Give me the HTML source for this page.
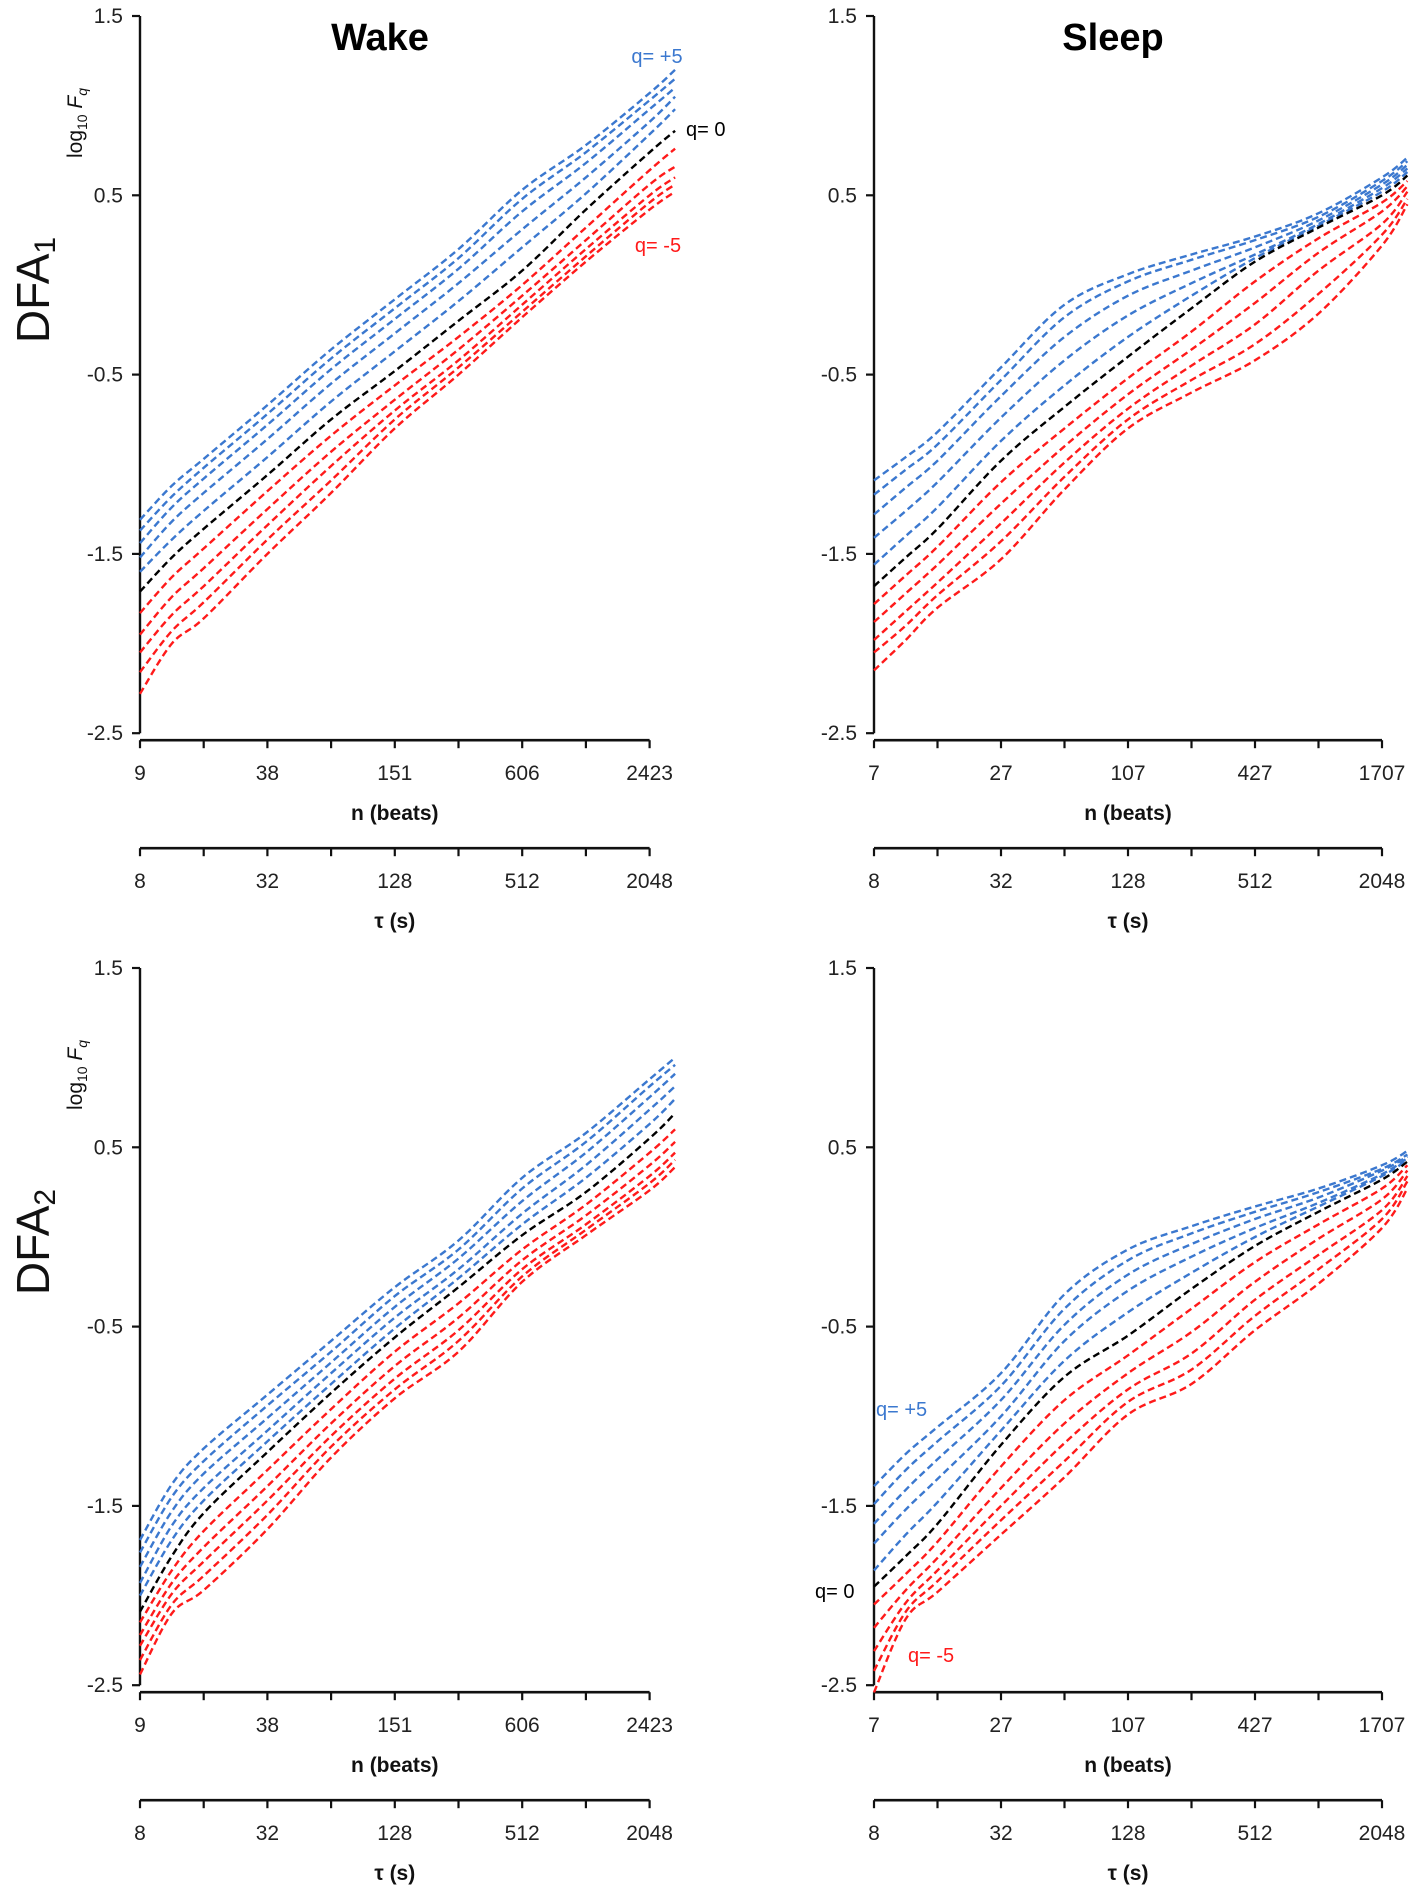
<!DOCTYPE html>
<html><head><meta charset="utf-8">
<style>
html,body{margin:0;padding:0;background:#fff;}
svg{display:block;font-family:"Liberation Sans Narrow","Liberation Sans",sans-serif;}
.tk{font-size:21px;fill:#222;}
.ax{font-size:21px;font-weight:bold;fill:#111;}
</style></head>
<body>
<svg id="chart" width="1417" height="1892" viewBox="0 0 1417 1892" xmlns="http://www.w3.org/2000/svg">
<g id="static"></g>
</svg>
<script>
// x grid in octaves above the smallest scale (tau = 8 s)
const octaves = [0, 0.5, 1, 2, 3, 4, 5, 6, 7, 8, 8.4];
const yTicks = [1.5, 0.5, -0.5, -1.5, -2.5];
const tauLabels = ["8","32","128","512","2048"];
const nLabelsWake = ["9","38","151","606","2423"];
const nLabelsSleep = ["7","27","107","427","1707"];
const qOrder = ["+5","+4","+3","+2","+1","0","-1","-2","-3","-4","-5"];

// Wake DFA1
const wake1_b1 = [-1.31,-1.12,-0.97,-0.67,-0.36,-0.08,0.20,0.53,0.78,1.07,1.20];
const wake1_b2 = [-1.37,-1.18,-1.02,-0.72,-0.41,-0.13,0.15,0.48,0.74,1.03,1.15];
const wake1_b3 = [-1.44,-1.24,-1.08,-0.78,-0.47,-0.19,0.09,0.41,0.68,0.98,1.10];
const wake1_b4 = [-1.52,-1.32,-1.16,-0.86,-0.55,-0.27,0.01,0.31,0.60,0.91,1.05];
const wake1_b5 = [-1.60,-1.42,-1.26,-0.96,-0.65,-0.37,-0.09,0.21,0.51,0.84,0.98];
const wake1_k  = [-1.71,-1.52,-1.36,-1.06,-0.75,-0.48,-0.20,0.08,0.42,0.74,0.86];
const wake1_r1 = [-1.83,-1.63,-1.47,-1.15,-0.84,-0.56,-0.29,0.00,0.32,0.64,0.76];
const wake1_r2 = [-1.95,-1.74,-1.58,-1.25,-0.93,-0.64,-0.36,-0.06,0.25,0.56,0.66];
const wake1_r3 = [-2.05,-1.84,-1.68,-1.34,-1.01,-0.70,-0.42,-0.11,0.20,0.50,0.60];
const wake1_r4 = [-2.16,-1.93,-1.77,-1.42,-1.09,-0.75,-0.46,-0.15,0.16,0.46,0.56];
const wake1_r5 = [-2.28,-2.00,-1.86,-1.50,-1.16,-0.80,-0.50,-0.18,0.13,0.42,0.52];

// Sleep DFA1
const sleep1_b1 = [-1.09,-0.96,-0.82,-0.46,-0.11,0.06,0.17,0.27,0.40,0.60,0.71];
const sleep1_b2 = [-1.17,-1.03,-0.89,-0.53,-0.18,0.02,0.14,0.25,0.38,0.58,0.69];
const sleep1_b3 = [-1.28,-1.13,-0.98,-0.62,-0.29,-0.06,0.08,0.21,0.36,0.56,0.67];
const sleep1_b4 = [-1.41,-1.26,-1.10,-0.74,-0.42,-0.17,0.01,0.17,0.34,0.54,0.65];
const sleep1_b5 = [-1.56,-1.40,-1.24,-0.87,-0.56,-0.29,-0.06,0.15,0.33,0.52,0.63];
const sleep1_k  = [-1.68,-1.52,-1.36,-0.98,-0.68,-0.40,-0.13,0.13,0.32,0.50,0.61];
const sleep1_r1 = [-1.78,-1.62,-1.46,-1.10,-0.80,-0.52,-0.26,0.02,0.26,0.46,0.58];
const sleep1_r2 = [-1.88,-1.72,-1.56,-1.22,-0.90,-0.61,-0.36,-0.10,0.18,0.41,0.55];
const sleep1_r3 = [-1.98,-1.82,-1.66,-1.33,-0.99,-0.69,-0.45,-0.22,0.08,0.34,0.52];
const sleep1_r4 = [-2.05,-1.90,-1.73,-1.43,-1.07,-0.75,-0.53,-0.33,-0.05,0.28,0.48];
const sleep1_r5 = [-2.15,-1.98,-1.80,-1.53,-1.14,-0.80,-0.60,-0.42,-0.16,0.22,0.45];

// Wake DFA2
const wake2_b1 = [-1.69,-1.38,-1.18,-0.88,-0.58,-0.28,-0.02,0.33,0.58,0.88,1.00];
const wake2_b2 = [-1.76,-1.45,-1.25,-0.94,-0.64,-0.33,-0.07,0.27,0.53,0.84,0.96];
const wake2_b3 = [-1.84,-1.53,-1.32,-1.01,-0.70,-0.39,-0.12,0.20,0.47,0.78,0.91];
const wake2_b4 = [-1.93,-1.61,-1.40,-1.08,-0.76,-0.45,-0.18,0.13,0.40,0.71,0.84];
const wake2_b5 = [-2.00,-1.69,-1.47,-1.14,-0.82,-0.51,-0.23,0.07,0.33,0.63,0.77];
const wake2_k  = [-2.09,-1.78,-1.54,-1.20,-0.87,-0.56,-0.28,0.01,0.25,0.55,0.69];
const wake2_r1 = [-2.15,-1.86,-1.64,-1.30,-0.96,-0.64,-0.37,-0.07,0.18,0.47,0.60];
const wake2_r2 = [-2.22,-1.93,-1.73,-1.39,-1.04,-0.72,-0.45,-0.13,0.12,0.40,0.53];
const wake2_r3 = [-2.28,-1.99,-1.81,-1.47,-1.11,-0.79,-0.52,-0.18,0.07,0.34,0.47];
const wake2_r4 = [-2.36,-2.05,-1.89,-1.55,-1.17,-0.85,-0.58,-0.22,0.04,0.30,0.43];
const wake2_r5 = [-2.44,-2.10,-1.97,-1.63,-1.23,-0.90,-0.64,-0.25,0.01,0.26,0.39];

// Sleep DFA2
const sleep2_b1 = [-1.39,-1.21,-1.06,-0.76,-0.32,-0.07,0.06,0.17,0.27,0.40,0.48];
const sleep2_b2 = [-1.49,-1.30,-1.14,-0.83,-0.40,-0.13,0.02,0.14,0.25,0.38,0.46];
const sleep2_b3 = [-1.60,-1.41,-1.24,-0.91,-0.49,-0.21,-0.04,0.10,0.22,0.37,0.45];
const sleep2_b4 = [-1.71,-1.52,-1.35,-1.00,-0.58,-0.30,-0.11,0.05,0.19,0.35,0.44];
const sleep2_b5 = [-1.86,-1.66,-1.48,-1.08,-0.69,-0.42,-0.20,0.00,0.17,0.34,0.43];
const sleep2_k  = [-1.95,-1.78,-1.60,-1.16,-0.78,-0.55,-0.29,-0.05,0.14,0.32,0.42];
const sleep2_r1 = [-2.05,-1.88,-1.70,-1.28,-0.91,-0.66,-0.40,-0.14,0.07,0.27,0.40];
const sleep2_r2 = [-2.18,-1.97,-1.79,-1.40,-1.04,-0.76,-0.53,-0.25,-0.01,0.21,0.37];
const sleep2_r3 = [-2.31,-2.04,-1.86,-1.50,-1.15,-0.85,-0.65,-0.35,-0.10,0.15,0.34];
const sleep2_r4 = [-2.42,-2.09,-1.92,-1.58,-1.25,-0.92,-0.74,-0.44,-0.18,0.10,0.31];
const sleep2_r5 = [-2.54,-2.13,-1.98,-1.66,-1.34,-0.99,-0.82,-0.52,-0.26,0.05,0.27];

const NS = "http://www.w3.org/2000/svg";
const svg = document.getElementById("chart");
function el(tag, attrs, parent){ const e=document.createElementNS(NS,tag); for(const k in attrs) e.setAttribute(k,attrs[k]); (parent||svg).appendChild(e); return e; }

const BLUE="#3b78cf", RED="#ff1a1a", BLACK="#000";

const panels = [
  {id:"wake-dfa1", x0:140, oct:63.7, top:16, labels:nLabelsWake,
   series:[wake1_b1,wake1_b2,wake1_b3,wake1_b4,wake1_b5,wake1_k,wake1_r1,wake1_r2,wake1_r3,wake1_r4,wake1_r5]},
  {id:"sleep-dfa1", x0:874, oct:63.5, top:16, labels:nLabelsSleep,
   series:[sleep1_b1,sleep1_b2,sleep1_b3,sleep1_b4,sleep1_b5,sleep1_k,sleep1_r1,sleep1_r2,sleep1_r3,sleep1_r4,sleep1_r5]},
  {id:"wake-dfa2", x0:140, oct:63.7, top:968, labels:nLabelsWake,
   series:[wake2_b1,wake2_b2,wake2_b3,wake2_b4,wake2_b5,wake2_k,wake2_r1,wake2_r2,wake2_r3,wake2_r4,wake2_r5]},
  {id:"sleep-dfa2", x0:874, oct:63.5, top:968, labels:nLabelsSleep,
   series:[sleep2_b1,sleep2_b2,sleep2_b3,sleep2_b4,sleep2_b5,sleep2_k,sleep2_r1,sleep2_r2,sleep2_r3,sleep2_r4,sleep2_r5]}
];
const UNIT = 179.3;

function smoothPath(pts){
  let d = "M"+pts[0][0].toFixed(1)+","+pts[0][1].toFixed(1);
  for(let i=0;i<pts.length-1;i++){
    const p0=pts[Math.max(i-1,0)], p1=pts[i], p2=pts[i+1], p3=pts[Math.min(i+2,pts.length-1)];
    const c1=[p1[0]+(p2[0]-p0[0])/6, p1[1]+(p2[1]-p0[1])/6];
    const c2=[p2[0]-(p3[0]-p1[0])/6, p2[1]-(p3[1]-p1[1])/6];
    d+=" C"+c1[0].toFixed(1)+","+c1[1].toFixed(1)+" "+c2[0].toFixed(1)+","+c2[1].toFixed(1)+" "+p2[0].toFixed(1)+","+p2[1].toFixed(1);
  }
  return d;
}

panels.forEach(p=>{
  const g = el("g",{});
  
  
  const xs = o => p.x0 + o*p.oct;
  const ys = v => p.top + (1.5 - v)*UNIT;
  const yBot = ys(-2.5);
  const xEnd = xs(8);
  const ya = el("line",{x1:p.x0,y1:p.top,x2:p.x0,y2:yBot,stroke:"#111","stroke-width":2.4},g);
  
  
  yTicks.forEach(v=>{
    el("line",{x1:p.x0-8,y1:ys(v),x2:p.x0,y2:ys(v),stroke:"#111","stroke-width":2.2},g);
    const t = el("text",{x:p.x0-17,y:ys(v)+7,"text-anchor":"end",class:"tk"},g);
    t.textContent = v.toFixed(1);
    
    
  });
  [[yBot+7, p.labels, "n (beats)", "n-axis"], [yBot+115, tauLabels, "\u03c4 (s)", "tau-axis"]].forEach(([ay, labs, title, nm])=>{
    const ln = el("line",{x1:p.x0,y1:ay,x2:xEnd,y2:ay,stroke:"#111","stroke-width":2.6},g);
    
    
    for(let o=0;o<=8;o++) el("line",{x1:xs(o),y1:ay,x2:xs(o),y2:ay+8,stroke:"#111","stroke-width":2.2},g);
    labs.forEach((s,i)=>{
      const t = el("text",{x:xs(i*2),y:ay+40,"text-anchor":"middle",class:"tk"},g);
      t.textContent = s;
      
      
    });
    const tt = el("text",{x:xs(4),y:ay+80,"text-anchor":"middle",class:"ax"},g);
    tt.textContent = title;
    
    
  });
  p.series.forEach((arr,i)=>{
    const col = i<5?BLUE:(i===5?BLACK:RED);
    const pts = arr.map((v,j)=>[xs(octaves[j]), ys(v)]);
    const path = el("path",{d:smoothPath(pts),fill:"none",stroke:col,"stroke-width":2.4,"stroke-dasharray":"7 4"},g);
    
    
  });
});

function addText(x,y,str,attrs,name){
  const t = el("text",Object.assign({x:x,y:y},attrs));
  t.textContent = str;
  
  
  return t;
}
addText(380,50,"Wake",{"text-anchor":"middle","font-size":"38","font-weight":"bold","font-family":"Liberation Sans, sans-serif"},"title-wake");
addText(1113,50,"Sleep",{"text-anchor":"middle","font-size":"38","font-weight":"bold","font-family":"Liberation Sans, sans-serif"},"title-sleep");

[[290,"1","row-label-dfa1"],[1242,"2","row-label-dfa2"]].forEach(([cy,sub,name])=>{
  const t = el("text",{transform:"translate(49,"+cy+") rotate(-90)","text-anchor":"middle","font-size":"46","font-family":"Liberation Sans, sans-serif",fill:"#111"});
  
  
  const a = el("tspan",{},t); a.textContent="DFA";
  const b = el("tspan",{"font-size":"30",dy:"6"},t); b.textContent=sub;
});
[[123],[1075]].forEach(([cy])=>{
  const t = el("text",{transform:"translate(82,"+cy+") rotate(-90)","text-anchor":"middle","font-size":"21",fill:"#111"});
  
  
  const a = el("tspan",{},t); a.textContent="log";
  const b = el("tspan",{"font-size":"14",dy:"5"},t); b.textContent="10";
  const c = el("tspan",{dy:"-5","font-style":"italic"},t); c.textContent=" F";
  const d = el("tspan",{"font-size":"14",dy:"5","font-style":"italic"},t); d.textContent="q";
});

addText(657,63,"q= +5",{"text-anchor":"middle","font-size":"20",fill:BLUE},"label-q-plus5");
addText(686,136,"q= 0",{"text-anchor":"start","font-size":"20",fill:BLACK},"label-q-0");
addText(658,252,"q= -5",{"text-anchor":"middle","font-size":"20",fill:RED},"label-q-minus5");
addText(876,1416,"q= +5",{"text-anchor":"start","font-size":"20",fill:BLUE},"label-q-plus5-sleep");
addText(815,1598,"q= 0",{"text-anchor":"start","font-size":"20",fill:BLACK},"label-q-0-sleep");
addText(908,1662,"q= -5",{"text-anchor":"start","font-size":"20",fill:RED},"label-q-minus5-sleep");
</script>
</body></html>
